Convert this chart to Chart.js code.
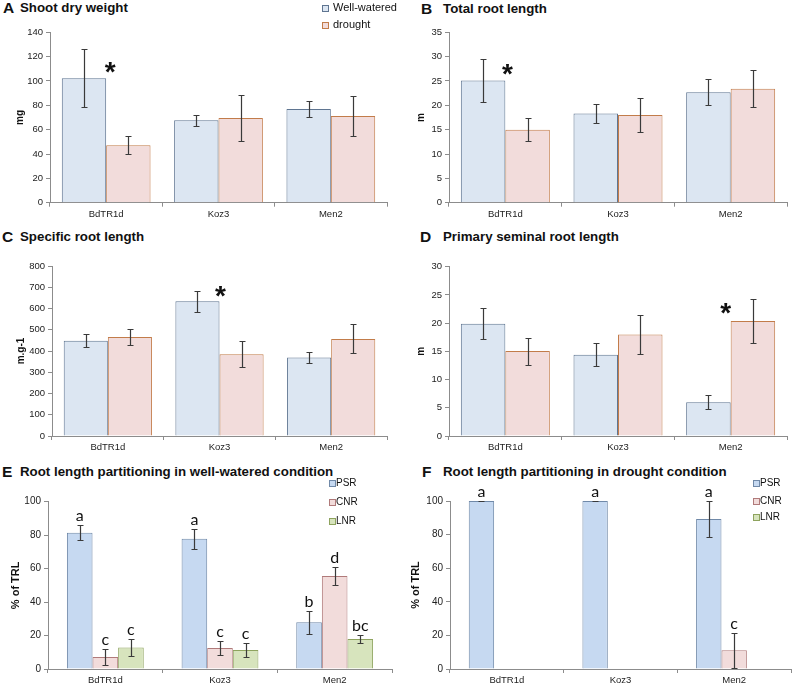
<!DOCTYPE html>
<html>
<head>
<meta charset="utf-8">
<script src="https://cdn.jsdelivr.net/npm/chart.js@4.4.0/dist/chart.umd.min.js"></script>
<style>
  body { margin: 0; width: 796px; height: 686px; background: #fff; position: relative; overflow: hidden; font-family: "Liberation Sans", Arial, sans-serif; color: #111; }
  canvas { position: absolute; }
  .letter { position: absolute; font-weight: bold; font-size: 15.5px; line-height: 16px; }
  .ttl { position: absolute; font-weight: bold; font-size: 13.3px; line-height: 16px; white-space: nowrap; }
  .leg { position: absolute; white-space: nowrap; }
  .leg span.box { position: absolute; width: 5px; height: 5px; border: 1px solid; }
  .leg span.txt { position: absolute; }
</style>
</head>
<body>
<div class="letter" style="left:3px;top:0px">A</div><div class="ttl" style="left:20px;top:0px">Shoot dry weight</div>
<div class="letter" style="left:421px;top:1px">B</div><div class="ttl" style="left:443px;top:1px">Total root length</div>
<div class="letter" style="left:2px;top:229px">C</div><div class="ttl" style="left:20px;top:229px">Specific root length</div>
<div class="letter" style="left:420px;top:229px">D</div><div class="ttl" style="left:443px;top:229px">Primary seminal root length</div>
<div class="letter" style="left:2px;top:464px">E</div><div class="ttl" style="left:20px;top:464px">Root length partitioning in well-watered condition</div>
<div class="letter" style="left:422px;top:464px">F</div><div class="ttl" style="left:443px;top:464px">Root length partitioning in drought condition</div>

<canvas id="cA" width="400" height="222" style="left:0;top:0"></canvas>
<canvas id="cB" width="396" height="222" style="left:400px;top:0"></canvas>
<canvas id="cC" width="400" height="234" style="left:0;top:222px"></canvas>
<canvas id="cD" width="396" height="234" style="left:400px;top:222px"></canvas>
<canvas id="cE" width="400" height="230" style="left:0;top:456px"></canvas>
<canvas id="cF" width="396" height="230" style="left:400px;top:456px"></canvas>

<div id="legA" class="leg"></div>
<div id="legE" class="leg"></div>
<div id="legF" class="leg"></div>

<script>
// datos
const genotypes = ["BdTR1d", "Koz3", "Men2"];
const conditions = ["Well-watered", "drought"];
const rootClasses = ["PSR", "CNR", "LNR"];

// A - shoot dry weight (mg)
const shootWW = [102.3, 67.8, 77];
const shootWWErr = [23.7, 4.5, 6.6];
const shootDR = [47.3, 69.5, 71.3];
const shootDRErr = [7.5, 18.6, 16.5];

// B - total root length (m)
const trlWW = [25.1, 18.3, 22.7];
const trlWWErr = [4.5, 1.95, 2.65];
const trlDR = [15, 18, 23.4];
const trlDRErr = [2.35, 3.45, 3.8];

// C - specific root length (m.g-1)
const srlWW = [448, 634, 370];
const srlWWErr = [30, 50, 27];
const srlDR = [466, 385, 457];
const srlDRErr = [38, 60, 68];

// D - primary seminal root length (m)
const psrWW = [19.9, 14.4, 6];
const psrWWErr = [2.8, 2, 1.3];
const psrDR = [15.05, 18, 20.4];
const psrDRErr = [2.4, 3.45, 3.85];

// E - partitioning well-watered (% of TRL)
const partWW_PSR = [81.5, 77.8, 28];
const partWW_PSRErr = [4.3, 6, 6.8];
const partWW_CNR = [7.2, 12.6, 55.6];
const partWW_CNRErr = [5, 4.2, 5.2];
const partWW_LNR = [12.8, 11.3, 18];
const partWW_LNRErr = [5, 4, 2.2];
const lettersWW_PSR = ["a", "a", "b"];
const lettersWW_CNR = ["c", "c", "d"];
const lettersWW_LNR = ["c", "c", "bc"];

// F - partitioning drought (% of TRL)
const partDR_PSR = [100, 100, 89.3];
const partDR_PSRErr = [0, 0, 10.7];
const partDR_CNR = [0, 0, 11.2];
const partDR_CNRErr = [null, null, 10.5];
const partDR_LNR = [0, 0, 0];
const partDR_LNRErr = [null, null, null];
const lettersDR_PSR = ["a", "a", "a"];
const lettersDR_CNR = [null, null, "c"];
const lettersDR_LNR = [null, null, null];

// asteriscos de significancia: [indice genotipo, valor]
const starA = [0, 114];
const starB = [0, 28.1];
const starC = [1, 698];
const starD = [2, 23.2];

const colWW = { bg: "#dce6f2", border: "#5f7591" };
const colDR = { bg: "#f2dcdb", border: "#c27c4a" };
const colPSR = { bg: "#c6d9f1", border: "#7089a8" };
const colCNR = { bg: "#f2dcdb", border: "#b07a7a" };
const colLNR = { bg: "#d7e4bd", border: "#8ea35e" };

const FONT = "'Liberation Sans', Arial, sans-serif";
const AXIS = "#8c8c8c";

// barras de error, letras y asteriscos
const extrasPlugin = {
  id: "extras",
  afterDatasetsDraw(chart, args, opts) {
    const ctx = chart.ctx;
    const y = chart.scales.y;
    ctx.save();
    chart.data.datasets.forEach((ds, i) => {
      const meta = chart.getDatasetMeta(i);
      meta.data.forEach((bar, j) => {
        let top = bar.y;
        const err = ds.errors ? ds.errors[j] : null;
        if (err !== null && err !== undefined) {
          const v = ds.data[j];
          const yTop = Math.round(y.getPixelForValue(v + err)) + 0.5;
          const yBot = Math.round(y.getPixelForValue(Math.max(0, v - err))) + 0.5;
          const x = Math.round(bar.x) + 0.5;
          ctx.strokeStyle = "#3a3a3a";
          ctx.lineWidth = 1.2;
          ctx.beginPath();
          ctx.moveTo(x, yTop); ctx.lineTo(x, yBot);
          ctx.moveTo(x - 3, yTop); ctx.lineTo(x + 3, yTop);
          ctx.moveTo(x - 3, yBot); ctx.lineTo(x + 3, yBot);
          ctx.stroke();
          top = yTop;
        }
        const letter = ds.letters ? ds.letters[j] : null;
        if (letter) {
          ctx.fillStyle = "#111";
          ctx.font = "16px Lato, sans-serif";
          ctx.textAlign = "center";
          ctx.textBaseline = "alphabetic";
          ctx.fillText(letter, bar.x, top - 5);
        }
      });
    });
    if (opts.star) {
      const x = chart.scales.x.getPixelForValue(opts.star[0]) + (opts.starDx || 0);
      const yy = y.getPixelForValue(opts.star[1]);
      ctx.fillStyle = "#111";
      ctx.font = "bold 28px " + FONT;
      ctx.textAlign = "center";
      ctx.textBaseline = "alphabetic";
      ctx.fillText("*", x, yy + 17);
    }
    ctx.restore();
  }
};

function makeChart(id, area, yMax, yStep, yTitle, datasets, cfg) {
  const canvas = document.getElementById(id);
  const w = canvas.width, h = canvas.height;
  const xH = 16;
  return new Chart(canvas.getContext("2d"), {
    type: "bar",
    data: { labels: genotypes, datasets: datasets },
    plugins: [extrasPlugin],
    options: {
      responsive: false,
      animation: false,
      layout: { padding: { left: 0, top: area.top, right: w - area.right, bottom: h - area.bottom - xH } },
      datasets: { bar: { categoryPercentage: cfg.catPct, barPercentage: 1, borderWidth: 1 } },
      plugins: {
        legend: { display: false },
        tooltip: { enabled: false },
        extras: { star: cfg.star, starDx: cfg.starDx }
      },
      scales: {
        x: {
          grid: { offset: true, drawOnChartArea: false, tickLength: 4, color: AXIS },
          border: { color: AXIS },
          ticks: { font: { family: FONT, size: 9.5 }, color: "#222", padding: 2 },
          afterFit: (s) => { s.height = xH; }
        },
        y: {
          min: 0, max: yMax,
          ticks: { stepSize: yStep, font: { family: FONT, size: cfg.yFont }, color: "#222", padding: 3 },
          grid: { drawOnChartArea: false, tickLength: 4, color: AXIS },
          border: { color: AXIS },
          title: { display: true, text: yTitle, color: "#111", font: { family: FONT, size: cfg.yTitleFont, weight: "bold" }, padding: { top: cfg.yTitlePad, bottom: 0 } },
          afterFit: (s) => { s.width = area.left; }
        }
      }
    }
  });
}

function pair(ww, wwErr, dr, drErr) {
  return [
    { label: conditions[0], data: ww, errors: wwErr, backgroundColor: colWW.bg, borderColor: colWW.border },
    { label: conditions[1], data: dr, errors: drErr, backgroundColor: colDR.bg, borderColor: colDR.border }
  ];
}

function triple(a, aErr, aL, b, bErr, bL, c, cErr, cL) {
  return [
    { label: rootClasses[0], data: a, errors: aErr, letters: aL, backgroundColor: colPSR.bg, borderColor: colPSR.border },
    { label: rootClasses[1], data: b, errors: bErr, letters: bL, backgroundColor: colCNR.bg, borderColor: colCNR.border },
    { label: rootClasses[2], data: c, errors: cErr, letters: cL, backgroundColor: colLNR.bg, borderColor: colLNR.border }
  ];
}

const top2 = { catPct: 0.79, yFont: 9.5, yTitleFont: 10 };
makeChart("cA", { left: 50, right: 387, top: 32.3, bottom: 202.7 }, 140, 20, "mg",
  pair(shootWW, shootWWErr, shootDR, shootDRErr), { ...top2, yTitlePad: 14.5, star: starA, starDx: 4 });
makeChart("cB", { left: 49, right: 387, top: 32.3, bottom: 202.7 }, 35, 5, "m",
  pair(trlWW, trlWWErr, trlDR, trlDRErr), { ...top2, yTitlePad: 15, star: starB, starDx: 2 });
makeChart("cC", { left: 52, right: 387, top: 44, bottom: 214 }, 800, 100, "m.g-1",
  pair(srlWW, srlWWErr, srlDR, srlDRErr), { ...top2, yTitlePad: 15, star: starC, starDx: 1 });
makeChart("cD", { left: 49, right: 387, top: 44.7, bottom: 214 }, 30, 5, "m",
  pair(psrWW, psrWWErr, psrDR, psrDRErr), { ...top2, yTitlePad: 15, star: starD, starDx: -5 });

const bottom2 = { catPct: 0.67, yFont: 10, yTitleFont: 11 };
makeChart("cE", { left: 48, right: 392, top: 45.7, bottom: 213 }, 100, 20, "% of TRL",
  triple(partWW_PSR, partWW_PSRErr, lettersWW_PSR, partWW_CNR, partWW_CNRErr, lettersWW_CNR, partWW_LNR, partWW_LNRErr, lettersWW_LNR),
  { ...bottom2, yTitlePad: 9 });
makeChart("cF", { left: 50, right: 391, top: 45, bottom: 213 }, 100, 20, "% of TRL",
  triple(partDR_PSR, partDR_PSRErr, lettersDR_PSR, partDR_CNR, partDR_CNRErr, lettersDR_CNR, partDR_LNR, partDR_LNRErr, lettersDR_LNR),
  { ...bottom2, yTitlePad: 9.4 });

// leyendas
function legend(id, names, cols, x, ys, size, gap) {
  const el = document.getElementById(id);
  names.forEach((n, i) => {
    const b = document.createElement("span");
    b.className = "box";
    b.style.left = x + "px";
    b.style.top = (ys[i] - 3.5) + "px";
    b.style.background = cols[i].bg;
    b.style.borderColor = cols[i].border;
    el.appendChild(b);
    const t = document.createElement("span");
    t.className = "txt";
    t.textContent = n;
    t.style.left = (x + gap) + "px";
    t.style.top = (ys[i] - size * 0.6) + "px";
    t.style.fontSize = size + "px";
    t.style.lineHeight = (size * 1.2) + "px";
    el.appendChild(t);
  });
}
legend("legA", conditions, [colWW, colDR], 322, [8, 25], 11, 11);
legend("legE", rootClasses, [colPSR, colCNR, colLNR], 329, [483, 502, 521], 10, 7);
legend("legF", rootClasses, [colPSR, colCNR, colLNR], 753, [483, 501, 517], 10, 7);
</script>
</body>
</html>
